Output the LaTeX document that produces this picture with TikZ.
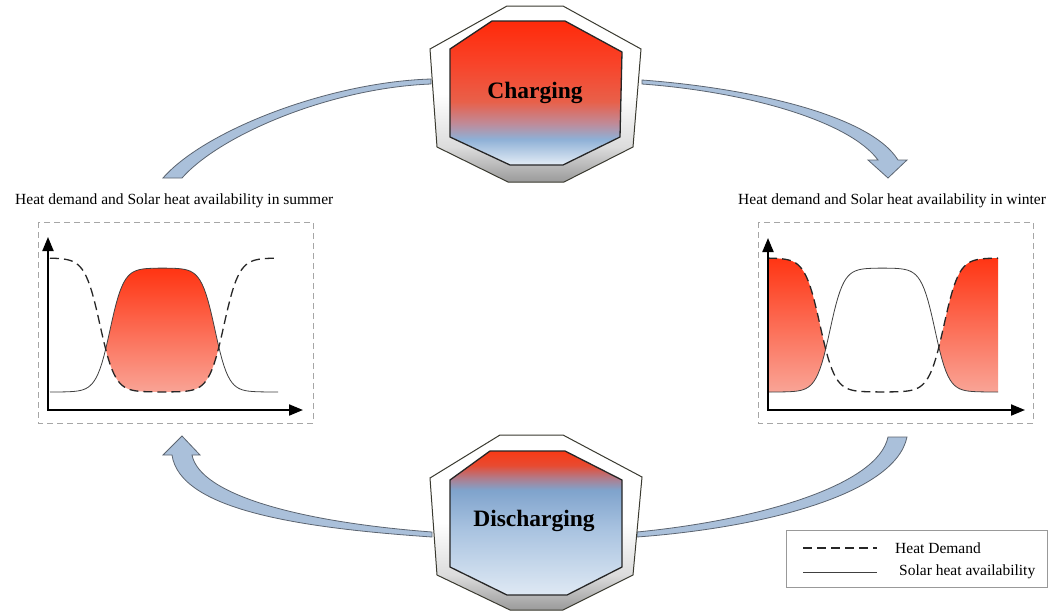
\documentclass[tikz,border=0pt]{standalone}
\usepackage{fontspec}
\setmainfont{Liberation Serif}
\usetikzlibrary{arrows.meta}
\definecolor{cr0}{HTML}{FF2A0A}
\definecolor{cr1}{HTML}{F8442A}
\definecolor{cr2}{HTML}{E8604A}
\definecolor{cm1}{HTML}{C08A98}
\definecolor{cb2}{HTML}{8EB0D6}
\definecolor{cb1}{HTML}{E4EDF6}
\definecolor{dr0}{HTML}{F83A15}
\definecolor{dr1}{HTML}{E84A30}
\definecolor{dm1}{HTML}{B07C8C}
\definecolor{db3}{HTML}{7FA3CC}
\definecolor{db2}{HTML}{A9C3E0}
\definecolor{db1}{HTML}{DFE9F4}
\definecolor{fr2}{HTML}{9A9A9A}
\definecolor{fr1}{HTML}{DCDCDC}
\definecolor{frameEdge}{HTML}{3A3A30}
\definecolor{flowBlue}{HTML}{AAC0DA}
\definecolor{flowEdge}{HTML}{5B6470}
\definecolor{gRed}{HTML}{FF3412}
\definecolor{gLight}{HTML}{F9A496}
\pgfdeclareverticalshading{chargeshade}{100bp}{color(0bp)=(cb1); color(25bp)=(cb1); color(34bp)=(cb2); color(39.5bp)=(cm1); color(47bp)=(cr2); color(60bp)=(cr1); color(75bp)=(cr0); color(100bp)=(cr0)}
\pgfdeclareverticalshading{dischargeshade}{100bp}{color(0bp)=(db1); color(25bp)=(db1); color(47.6bp)=(db2); color(61.5bp)=(db3); color(65.6bp)=(dm1); color(70.1bp)=(dr1); color(75bp)=(dr0); color(100bp)=(dr0)}
\pgfdeclareverticalshading{frameshade}{100bp}{color(0bp)=(fr2); color(25bp)=(fr2); color(35bp)=(fr1); color(50bp)=(white); color(100bp)=(white)}
\newcommand\ttlfont{\fontsize{15.5}{18}\selectfont}
\newcommand\octfont{\fontsize{23.5}{26}\selectfont\bfseries}
\begin{document}
\begin{tikzpicture}[x=1pt,y=-1pt,
  declare function={sg(\t)=1/(1+exp(-max(-9,min(9,\t))));
    dem(\u)=258+134*(sg((\u-52)/7.5)-sg((\u-176)/7.5));
    sol(\u)=392-124*(sg((\u-62)/6.8)-sg((\u-167)/6.8));},
  demand/.style={draw=black!85, line width=1.3pt, dash pattern=on 9pt off 5pt},
  solar/.style={draw=black!75, line width=0.8pt},
  gbox/.style={draw=gray!70, line width=1pt, dash pattern=on 6pt off 4pt},
  axisline/.style={line width=2pt, {Triangle[length=14pt,width=11pt]}-{Triangle[length=14pt,width=11pt]}},
  flow/.style={fill=flowBlue, draw=flowEdge, line width=0.8pt},
  octout/.style={shade, shading=frameshade, draw=frameEdge, line width=1pt},
  octin/.style={shade, draw=black!85, line width=1.3pt},
  ttl/.style={font=\ttlfont, inner sep=0pt, anchor=west},
  lbl/.style={font=\octfont, inner sep=0pt}]
\useasboundingbox (0,0) rectangle (1050,611);
\fill[white] (0,0) rectangle (1050,611);

% ---------- flow arrows ----------
\path[flow] (431,79) .. controls (330,82) and (205,130) .. (163,178) -- (182,178)
  .. controls (220,135) and (330,88) .. (431,84) -- cycle;
\path[flow] (642,80) .. controls (750,88) and (870,115) .. (898,160) -- (907,160) -- (888,178)
  -- (868,160) -- (878,160) .. controls (850,122) and (750,92) .. (642,84) -- cycle;
\path[flow] (432,537) .. controls (300,528) and (180,510) .. (172,455) -- (163,455) -- (182,436)
  -- (200,455) -- (192,455) .. controls (200,495) and (300,522) .. (432,532) -- cycle;
\path[flow] (637,537) .. controls (760,528) and (895,495) .. (907,437) -- (888,437)
  .. controls (878,485) and (760,520) .. (637,532) -- cycle;

% ---------- charging octagon ----------
\path[octout] (507,6) -- (563,6) -- (641,49) -- (633,147) -- (564,182) -- (508,182) -- (437,147) -- (430,49) -- cycle;
\path[octin, shading=chargeshade] (492,21) -- (565,21) -- (622,52) -- (620,137) -- (563,165) -- (510,165) -- (450,137) -- (450,49) -- cycle;
\node[lbl] (chg) at (535,93) {Charging};

% ---------- discharging octagon ----------
\path[octout] (500,435) -- (563,435) -- (642,477) -- (633,575) -- (563,610) -- (510,610) -- (437,575) -- (430,478) -- cycle;
\path[octin, shading=dischargeshade] (490,451) -- (565,451) -- (622,480) -- (622,567) -- (567,595) -- (507,595) -- (450,567) -- (450,480) -- cycle;
\node[lbl] (dis) at (534,521) {Discharging};

% ---------- summer panel ----------
\node[ttl] (sumT) at (15,201) {Heat demand and Solar heat availability in summer};
\draw[gbox] (38,222) rectangle (313,423);
\begin{scope}
  \clip plot[domain=2:230, samples=115, variable=\u] ({48+\u},{dem(\u)}) -- (278,240) -- (50,240) -- cycle;
  \shade[top color=gRed, bottom color=gLight] plot[domain=2:230, samples=115, variable=\u] ({48+\u},{sol(\u)}) -- (278,393) -- (50,393) -- cycle;
\end{scope}
\draw[solar] plot[domain=2:230, samples=115, variable=\u] ({48+\u},{sol(\u)});
\draw[demand] plot[domain=2:230, samples=115, variable=\u] ({48+\u},{dem(\u)});
\coordinate (sO) at (48,410);
\coordinate (sY) at (48,237);
\coordinate (sX) at (303,410);
\draw[axisline] (sY) -- (sO) -- (sX);

% ---------- winter panel ----------
\node[ttl] (winT) at (738,201) {Heat demand and Solar heat availability in winter};
\draw[gbox] (758,222) rectangle (1033,423);
\begin{scope}
  \clip plot[domain=0:230, samples=116, variable=\u] ({768+\u},{dem(\u)}) -- (998,393) -- (768,393) -- cycle;
  \shade[top color=gRed, bottom color=gLight] plot[domain=0:230, samples=116, variable=\u] ({768+\u},{sol(\u)}) -- (998,257) -- (768,257) -- cycle;
\end{scope}
\draw[solar] plot[domain=0:230, samples=116, variable=\u] ({768+\u},{sol(\u)});
\draw[demand] plot[domain=0:230, samples=116, variable=\u] ({768+\u},{dem(\u)});
\coordinate (wO) at (768,410);
\coordinate (wY) at (768,238);
\coordinate (wX) at (1025,410);
\draw[axisline] (wY) -- (wO) -- (wX);

% ---------- legend ----------
\node[draw=gray!80, line width=0.8pt, minimum width=261pt, minimum height=57pt, anchor=north west, inner sep=0pt] (leg) at (786,530) {};
\coordinate (l1a) at (803,548);
\coordinate (l1b) at (877,548);
\coordinate (l2a) at (803,572);
\coordinate (l2b) at (877,572);
\draw[demand] (l1a) -- (l1b);
\draw[solar] (l2a) -- (l2b);
\node[ttl] (legD) at (895,548) {Heat Demand};
\node[ttl] (legS) at (899,572) {Solar heat availability};
\end{tikzpicture}
\end{document}
